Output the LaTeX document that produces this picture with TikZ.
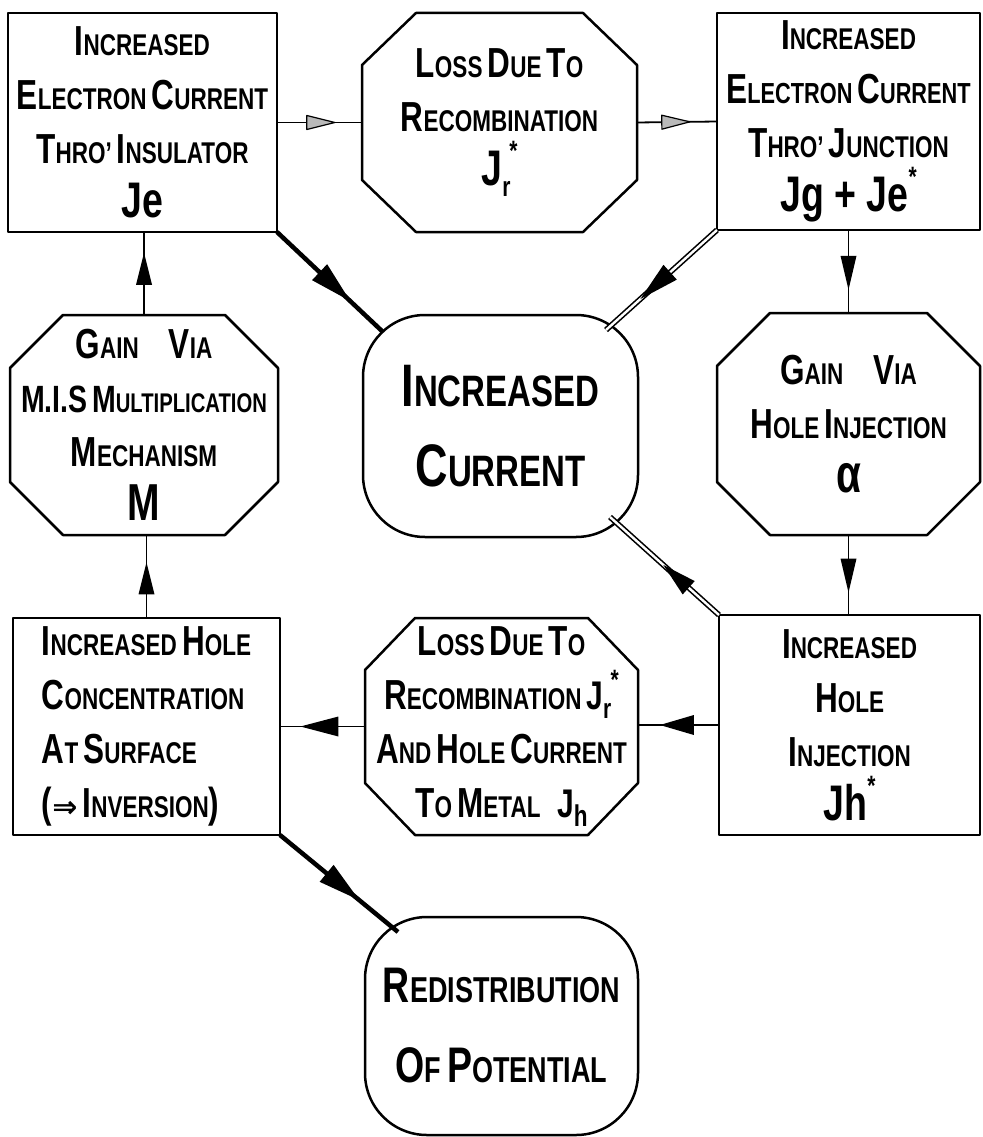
\documentclass[tikz,border=0pt]{standalone}
\usepackage{fontspec}
\setmainfont{Liberation Sans}[FakeStretch=0.75]
\newfontfamily\symfont{DejaVu Sans}
\usetikzlibrary{decorations.markings}
\newcommand\bg[1]{{\fontsize{42}{42}\selectfont #1}}
\newcommand\hg[1]{{\fontsize{60}{60}\selectfont #1}}
\newcommand\Jss[2]{J\raisebox{-0.22em}{\fontsize{28}{28}\selectfont #1}\kern-0.02em\raisebox{0.5em}{\fontsize{28}{28}\selectfont #2}}
\newcommand\octdraw[3]{\draw[boxline] ([xshift=#2]#1.north west) -- ([xshift=-#2]#1.north east) -- ([yshift=-#3]#1.north east) -- ([yshift=#3]#1.south east) -- ([xshift=-#2]#1.south east) -- ([xshift=#2]#1.south west) -- ([yshift=#3]#1.south west) -- ([yshift=-#3]#1.north west) -- cycle;}
\tikzset{
  boxline/.style={line width=2.5pt, line join=round},
  basebox/.style={rectangle, outer sep=0pt, inner sep=0pt, align=center, font=\bfseries\fontsize{30}{54}\selectfont},
  sqbox/.style={basebox, draw, boxline},
  octbox/.style={basebox, draw=none},
  rndbox/.style={basebox, draw, boxline, rounded corners=62pt, font=\bfseries\fontsize{44}{80}\selectfont},
  thinconn/.style={line width=1.8pt},
  thickconn/.style={line width=4.5pt},
  dblconn/.style={line width=1.6pt, double, double distance=2.4pt},
  solidhead/.style n args={3}{postaction={decorate, decoration={markings, mark=at position #1 with {\fill[black] (0pt,0pt) -- (-#2,#3) -- (-#2,-#3) -- cycle;}}}},
  openhead/.style={postaction={decorate, decoration={markings, mark=at position #1 with {\filldraw[fill=gray!55, draw=black, line width=1.2pt, line join=round] (0pt,0pt) -- (-28pt,7pt) -- (-28pt,-7pt) -- cycle;}}}}
}
\begin{document}
\begin{tikzpicture}[x=1pt,y=-1pt]
\useasboundingbox (0,0) rectangle (982,1137);
% nodes
\node[sqbox, minimum width=269pt, minimum height=219pt] (n1) at (142.5,122.5)
  {\bg{I}NCREASED\\\bg{E}LECTRON\,\bg{C}URRENT\\\bg{T}HRO'\,\bg{I}NSULATOR\\{\fontsize{50}{50}\selectfont Je}};
\node[octbox, minimum width=275pt, minimum height=219pt] (n2) at (499.5,122.5)
  {\bg{L}OSS\,\bg{D}UE\,\bg{T}O\\\bg{R}ECOMBINATION\\{\fontsize{50}{50}\selectfont \Jss{r}{*}}};
\octdraw{n2}{54pt}{52pt}
\node[sqbox, minimum width=263pt, minimum height=217pt] (n3) at (848.5,121.5)
  {\bg{I}NCREASED\\{\fontsize{29}{54}\selectfont\bg{E}LECTRON\,\bg{C}URRENT}\\\bg{T}HRO'\,\bg{J}UNCTION\\{\fontsize{50}{50}\selectfont Jg + Je\raisebox{0.5em}{\fontsize{28}{28}\selectfont *}}};
\node[octbox, minimum width=268pt, minimum height=220pt] (n4) at (144,425)
  {\bg{G}AIN\quad\bg{V}IA\\{\fontsize{27}{54}\selectfont{\fontsize{38}{38}\selectfont M.I.S}\,{\fontsize{38}{38}\selectfont M}ULTIPLICATION}\\\bg{M}ECHANISM\\{\fontsize{52}{52}\selectfont M}};
\octdraw{n4}{53pt}{53pt}
\node[rndbox, minimum width=275pt, minimum height=222pt] (n5) at (500.5,426)
  {\hg{I}NCREASED\\\hg{C}URRENT};
\node[octbox, minimum width=263pt, minimum height=222pt] (n6) at (848.5,424)
  {\bg{G}AIN\quad\bg{V}IA\\\bg{H}OLE\,\bg{I}NJECTION\\{\fontsize{54}{54}\selectfont α}};
\octdraw{n6}{53pt}{53pt}
\node[sqbox, minimum width=267pt, minimum height=217pt, align=left] (n7) at (146.5,726.5)
  {\bg{I}NCREASED\,\bg{H}OLE\\\bg{C}ONCENTRATION\\\bg{A}T\,\bg{S}URFACE\\\bg{(}{\symfont\fontsize{30}{30}\selectfont ⇒}\,\bg{I}NVERSION\bg{)}};
\node[octbox, minimum width=273pt, minimum height=217pt] (n8) at (501.5,726.5)
  {\bg{L}OSS\,\bg{D}UE\,\bg{T}O\\\bg{R}ECOMBINATION\,{\fontsize{40}{40}\selectfont\Jss{r}{*}}\\\bg{A}ND\,\bg{H}OLE\,\bg{C}URRENT\\\bg{T}O\,\bg{M}ETAL\;\;{\fontsize{40}{40}\selectfont J\raisebox{-0.22em}{\fontsize{30}{30}\selectfont h}}};
\octdraw{n8}{50pt}{52pt}
\node[sqbox, minimum width=261pt, minimum height=220pt] (n9) at (849.5,725)
  {\bg{I}NCREASED\\\bg{H}OLE\\\bg{I}NJECTION\\{\fontsize{50}{50}\selectfont Jh\raisebox{0.5em}{\fontsize{28}{28}\selectfont *}}};
\node[rndbox, minimum width=273pt, minimum height=218pt, font=\bfseries\fontsize{36}{80}\selectfont] (n10) at (501.5,1026)
  {{\fontsize{50}{50}\selectfont R}EDISTRIBUTION\\{\fontsize{50}{50}\selectfont O}F\,{\fontsize{50}{50}\selectfont P}OTENTIAL};
% connectors
\draw[thinconn, openhead=0.68] (n1.east) -- (n2.west);
\draw[thinconn, openhead=0.66] (n2.east) -- (n3.west);
\draw[thinconn, solidhead={0.72}{34pt}{8pt}] (n3.south) -- (n3.south |- n6.north);
\draw[thinconn, solidhead={0.72}{34pt}{8pt}] (n6.south) -- (n6.south |- n9.north);
\draw[thinconn, solidhead={0.73}{34pt}{10pt}] (n9.west) -- (n9.west -| n8.east);
\draw[thinconn, solidhead={0.76}{38pt}{10pt}] (n8.west) -- (n8.west -| n7.east);
\draw[thinconn, solidhead={0.67}{32pt}{8pt}] (n7.north) -- (n7.north |- n4.south);
\draw[thinconn, solidhead={0.75}{32pt}{8pt}] (n4.north) -- (n4.north |- n1.south);
\draw[thickconn, solidhead={0.69}{42pt}{11pt}] (n1.south east) -- ([xshift=20pt,yshift=-17pt]n5.north west);
\draw[dblconn, solidhead={0.69}{40pt}{10pt}] (n3.south west) -- ([xshift=-32pt,yshift=-15pt]n5.north east);
\draw[dblconn, solidhead={0.51}{34pt}{9pt}] (n9.north west) -- ([xshift=-28pt,yshift=20pt]n5.south east);
\draw[thickconn, solidhead={0.67}{42pt}{11pt}] (n7.south east) -- ([xshift=33pt,yshift=-15pt]n10.north west);
\end{tikzpicture}
\end{document}
